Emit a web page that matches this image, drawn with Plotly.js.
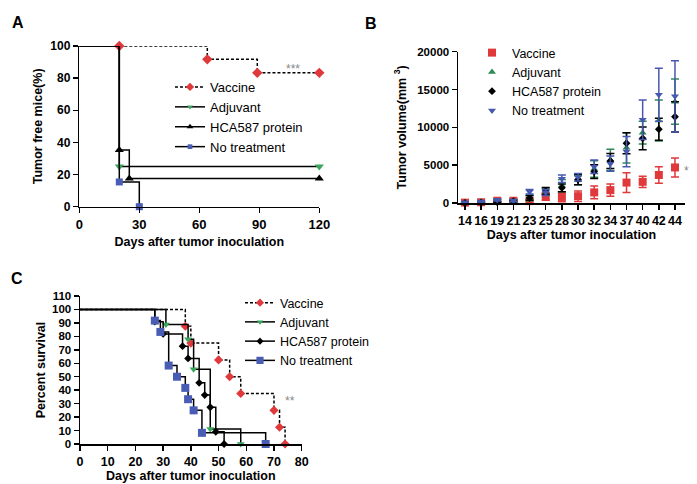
<!DOCTYPE html>
<html><head><meta charset="utf-8">
<script src="https://cdn.plot.ly/plotly-3.0.1.min.js"></script>
<style>html,body{margin:0;padding:0;background:#fff}#chart{width:697px;height:484px}</style>
</head><body><div id="chart"></div>
<script>
// ---------- Panel A: tumor free mice ----------
const aVacX = [0, 20, 64, 89, 120];
const aVacY = [100, 100, 91.7, 83.3, 83.3];
const aAdjX = [0, 20, 120];
const aAdjY = [100, 25, 25];
const aHcaX = [0, 20, 25, 120];
const aHcaY = [100, 35.3, 17.6, 17.6];
const aNoX = [0, 20, 30];
const aNoY = [100, 15.4, 0];

// ---------- Panel B: tumor volume ----------
const bDays = ['14','16','19','21','23','25','28','30','32','34','37','40','42','44'];
const bVac = [50, 100, 300, 300, 250, 850, 800, 900, 1400, 1700, 2700, 2800, 3700, 4700];
const bVacErr = [80, 100, 200, 200, 250, 500, 650, 700, 850, 800, 1300, 750, 1100, 1250];
const bAdj = [50, 150, 300, 300, 700, 1500, 2300, 3000, 4500, 5700, 7300, 9300, 10900, 13400];
const bAdjErr = [50, 100, 150, 150, 400, 450, 800, 600, 1100, 1400, 2000, 1500, 2700, 3000];
const bHca = [0, 50, 100, 250, 650, 1600, 2000, 3100, 4150, 5550, 7900, 8550, 9750, 11400];
const bHcaErr = [30, 50, 100, 100, 300, 450, 500, 700, 900, 1000, 1400, 1500, 1450, 2000];
const bNo = [100, 200, 400, 300, 1500, 1400, 3200, 3400, 4800, 5200, 6800, 11000, 14300, 14100];
const bNoErr = [80, 100, 150, 150, 300, 400, 500, 500, 900, 1000, 2000, 2600, 3500, 4700];

// ---------- Panel C: survival ----------
const cVacX = [0, 38, 40, 50, 54, 58, 70, 72, 74];
const cVacY = [100, 87.5, 75, 62.5, 50, 37.5, 25, 12.5, 0];
const cAdjX = [0, 31, 39, 41, 47, 58];
const cAdjY = [100, 88.9, 77.8, 55.6, 11.1, 0];
const cHcaX = [0, 27, 30, 37, 39, 43, 45, 47, 49, 52];
const cHcaY = [100, 90.9, 81.8, 72.7, 63.6, 45.5, 36.4, 27.3, 9.1, 0];
const cNoX = [0, 27, 29, 32, 35, 38, 39, 41, 44, 67];
const cNoY = [100, 91.7, 83.3, 58.3, 50, 41.7, 33.3, 25, 8.3, 0];

const names = ['Vaccine', 'Adjuvant', 'HCA587 protein', 'No treatment'];
const RED = '#e0393b', GREEN = '#3aa65c', BLUE = '#4a5db5', BLACK = '#000000';
const BGREEN = '#2f8a55', BBLUE = '#4658b0';

const W = 697, H = 484;
const px = v => v / W, py = v => 1 - v / H;
const FONT = 'Liberation Sans, Arial, sans-serif';

function sizes(arr, s) { return arr.map((_, i) => i === 0 ? 0 : s); }

function kmTrace(x, y, name, color, symbol, size, dashed, xa, ya, leg) {
  return {
    x: x, y: y, name: name, type: 'scatter', mode: 'lines+markers',
    xaxis: xa, yaxis: ya, legend: leg, cliponaxis: false,
    line: {shape: 'hv', color: BLACK, width: 1.5, dash: dashed ? '3px,2px' : 'solid'},
    marker: {symbol: symbol, color: color, size: sizes(x, size), opacity: 1, line: {width: 0}}
  };
}

const traces = [
  kmTrace(aVacX, aVacY, names[0], RED, 'diamond', 8, true, 'x', 'y', 'legend'),
  kmTrace(aAdjX, aAdjY, names[1], GREEN, 'triangle-down', 8, false, 'x', 'y', 'legend'),
  kmTrace(aHcaX, aHcaY, names[2], BLACK, 'triangle-up', 8, false, 'x', 'y', 'legend'),
  kmTrace(aNoX, aNoY, names[3], BLUE, 'square', 7, false, 'x', 'y', 'legend'),
];

function barTrace(y, err, name, color, symbol, size) {
  return {
    x: bDays, y: y, name: name, type: 'scatter', mode: 'markers',
    xaxis: 'x2', yaxis: 'y2', legend: 'legend2', cliponaxis: false,
    marker: {symbol: symbol, color: color, size: size, opacity: 1},
    error_y: {type: 'data', array: err, visible: true, color: color, thickness: 1.5, width: 4}
  };
}
traces.push(barTrace(bVac, bVacErr, names[0], RED, 'square', 8));
traces.push(barTrace(bAdj, bAdjErr, names[1], BGREEN, 'triangle-up', 7));
traces.push(barTrace(bHca, bHcaErr, names[2], BLACK, 'diamond', 6));
traces.push(barTrace(bNo, bNoErr, names[3], BBLUE, 'triangle-down', 7));

traces.push(kmTrace(cVacX, cVacY, names[0], RED, 'diamond', 7, true, 'x3', 'y3', 'legend3'));
traces.push(kmTrace(cAdjX, cAdjY, names[1], GREEN, 'triangle-down', 7, false, 'x3', 'y3', 'legend3'));
traces.push(kmTrace(cHcaX, cHcaY, names[2], BLACK, 'diamond', 6, false, 'x3', 'y3', 'legend3'));
traces.push(kmTrace(cNoX, cNoY, names[3], BLUE, 'square', 8, false, 'x3', 'y3', 'legend3'));

function axis(extra) {
  return Object.assign({
    showline: true, linecolor: BLACK, linewidth: 1.5, mirror: false,
    ticks: 'outside', ticklen: 5, tickwidth: 1.5, tickcolor: BLACK,
    showgrid: false, zeroline: false, fixedrange: true,
    tickfont: {family: FONT, size: 12, color: BLACK, weight: 'bold'},
  }, extra);
}
const titleFont = {family: FONT, size: 12.5, color: BLACK, weight: 'bold'};

const layout = {
  width: W, height: H, margin: {l: 0, r: 0, t: 0, b: 0},
  paper_bgcolor: '#fff', plot_bgcolor: 'rgba(0,0,0,0)',
  font: {family: FONT, color: BLACK},
  xaxis: axis({domain: [px(79.3), px(319.3)], anchor: 'y', range: [0, 120], tickvals: [0, 30, 60, 90, 120],
    tickfont: {family: FONT, size: 13, color: BLACK, weight: 'bold'},
    title: {text: 'Days after tumor inoculation', font: titleFont, standoff: 6}}),
  yaxis: axis({domain: [py(206.7), py(46)], anchor: 'x', range: [0, 100], tickvals: [0, 20, 40, 60, 80, 100],
    title: {text: 'Tumor free mice(%)', font: titleFont, standoff: 5}}),
  xaxis2: axis({domain: [px(458), px(685)], anchor: 'y2', type: 'category', range: [-0.43, 13.62],
    tickfont: {family: FONT, size: 12.5, color: BLACK, weight: 'bold'},
    title: {text: 'Days after tumor inoculation', font: titleFont, standoff: 2}}),
  yaxis2: axis({domain: [py(203), py(51.7)], anchor: 'x2', range: [0, 20000], tickvals: [0, 5000, 10000, 15000, 20000],
    tickformat: 'd',
    tickfont: {family: FONT, size: 11.5, color: BLACK, weight: 'bold'},
    title: {text: 'Tumor volume(mm <sup>3</sup>)', font: titleFont, standoff: 8}}),
  xaxis3: axis({domain: [px(80), px(301.7)], anchor: 'y3', range: [0, 80], tickvals: [0,10,20,30,40,50,60,70,80],
    tickfont: {family: FONT, size: 12.5, color: BLACK, weight: 'bold'},
    title: {text: 'Days after tumor inoculation', font: titleFont, standoff: 3}}),
  yaxis3: axis({domain: [py(444), py(296)], anchor: 'x3', range: [0, 110], tickvals: [0,10,20,30,40,50,60,70,80,90,100,110],
    tickfont: {family: FONT, size: 11.5, color: BLACK, weight: 'bold'},
    title: {text: 'Percent survival', font: titleFont, standoff: 3}}),
  legend: {x: px(170), y: py(72), xanchor: 'left', yanchor: 'top', bgcolor: 'rgba(0,0,0,0)',
    font: {family: FONT, size: 13, color: BLACK}, tracegroupgap: 0, itemclick: false},
  legend2: {x: px(472), y: py(38), xanchor: 'left', yanchor: 'top', bgcolor: 'rgba(0,0,0,0)',
    font: {family: FONT, size: 12.5, color: BLACK}, tracegroupgap: 0, itemclick: false},
  legend3: {x: px(240), y: py(288), xanchor: 'left', yanchor: 'top', bgcolor: 'rgba(0,0,0,0)',
    font: {family: FONT, size: 12.5, color: BLACK}, tracegroupgap: 0, itemclick: false},
  annotations: [
    {text: 'A', x: px(10), y: py(12), xref: 'paper', yref: 'paper', showarrow: false, font: {family: FONT, size: 16, weight: 'bold', color: BLACK}},
    {text: 'B', x: px(371), y: py(13), xref: 'paper', yref: 'paper', showarrow: false, font: {family: FONT, size: 16, weight: 'bold', color: BLACK}},
    {text: 'C', x: px(9), y: py(278), xref: 'paper', yref: 'paper', showarrow: false, font: {family: FONT, size: 16, weight: 'bold', color: BLACK}},
    {text: '***', x: px(293), y: py(60), xref: 'paper', yref: 'paper', showarrow: false, font: {family: FONT, size: 12, color: '#888'}},
    {text: '*', x: px(691), y: py(171), xref: 'paper', yref: 'paper', showarrow: false, font: {family: FONT, size: 12, color: '#888'}},
    {text: '**', x: px(290), y: py(410), xref: 'paper', yref: 'paper', showarrow: false, font: {family: FONT, size: 12, color: '#888'}}
  ]
};

Plotly.newPlot('chart', traces, layout, {displayModeBar: false, staticPlot: true});
</script></body></html>
